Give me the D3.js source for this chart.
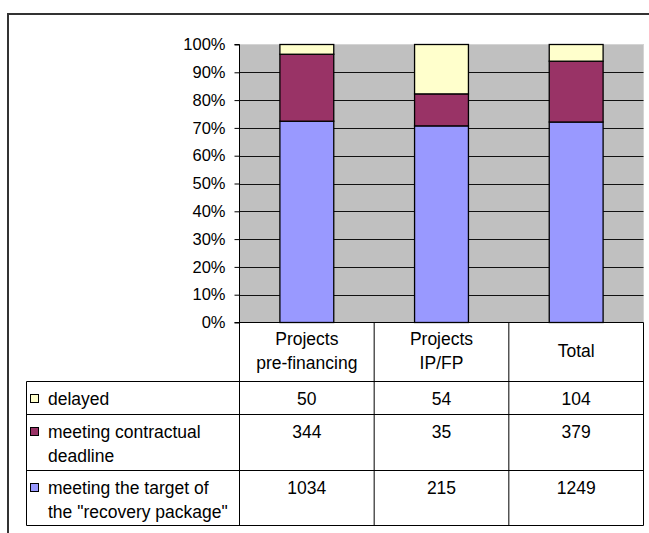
<!DOCTYPE html>
<html>
<head>
<meta charset="utf-8">
<script src="https://cdn.jsdelivr.net/npm/d3@7"></script>
<style>
  html, body { margin: 0; padding: 0; background: #fff; }
  svg { display: block; }
  text { font-family: "Liberation Sans", Arial, Helvetica, sans-serif; fill: #000; }
</style>
</head>
<body>
<svg id="chart" width="649" height="533"></svg>
<script>
// Project groups (columns) and their header lines
const categories = ["Projects pre-financing", "Projects IP/FP", "Total"];
const categoryLines = [["Projects", "pre-financing"], ["Projects", "IP/FP"], ["Total"]];

// Series, bottom to top in the stack
const seriesKeys = ["recovery", "contractual", "delayed"];
const seriesLabelLines = {
  recovery: ["meeting the target of", "the \"recovery package\""],
  contractual: ["meeting contractual", "deadline"],
  delayed: ["delayed"]
};
const seriesColors = { recovery: "#9999ff", contractual: "#993366", delayed: "#ffffcc" };

// Counts per category
const recoveryValues = [1034, 215, 1249];
const contractualValues = [344, 35, 379];
const delayedValues = [50, 54, 104];

// Axis ticks
const tickValues = [0, 0.1, 0.2, 0.3, 0.4, 0.5, 0.6, 0.7, 0.8, 0.9, 1];

// Table row order (top to bottom)
const tableOrder = ["delayed", "contractual", "recovery"];

const valuesByKey = { recovery: recoveryValues, contractual: contractualValues, delayed: delayedValues };
const rows = categories.map((c, i) => {
  const r = { category: c };
  seriesKeys.forEach(k => r[k] = valuesByKey[k][i]);
  return r;
});

const svg = d3.select("#chart");
const AXIS_FONT = 16.5;
const TABLE_FONT = 17.5;

// Plot geometry
const plot = { left: 239.5, right: 643.5, top: 44.5, bottom: 322.5 };

const x = d3.scaleBand()
  .domain(categories)
  .range([plot.left, plot.right])
  .paddingInner(0.6)
  .paddingOuter(0.3);

const y = d3.scaleLinear().domain([0, 1]).range([plot.bottom, plot.top]);

// Outer frame (top and left edges)
svg.append("path")
  .attr("d", `M8,533 V14 H649`)
  .attr("fill", "none")
  .attr("stroke", "#333")
  .attr("stroke-width", 2);

// Plot background
svg.append("rect")
  .attr("x", plot.left).attr("y", plot.top)
  .attr("width", plot.right - plot.left).attr("height", plot.bottom - plot.top)
  .attr("fill", "#c0c0c0")
  .attr("stroke", "#d4d4d4")
  .attr("stroke-width", 1);

// Gridlines
svg.append("g")
  .selectAll("line")
  .data(tickValues.filter(v => v > 0 && v < 1))
  .join("line")
  .attr("x1", plot.left).attr("x2", plot.right)
  .attr("y1", d => Math.round(y(d)) + 0.5).attr("y2", d => Math.round(y(d)) + 0.5)
  .attr("stroke", "#111")
  .attr("stroke-width", 1.2);

// Stacked 100% bars
const stack = d3.stack().keys(seriesKeys).offset(d3.stackOffsetExpand);
const layers = stack(rows);

svg.append("g")
  .selectAll("g")
  .data(layers)
  .join("g")
  .attr("fill", d => seriesColors[d.key])
  .selectAll("rect")
  .data(d => d)
  .join("rect")
  .attr("x", d => x(d.data.category))
  .attr("width", x.bandwidth())
  .attr("y", d => y(d[1]))
  .attr("height", d => y(d[0]) - y(d[1]))
  .attr("stroke", "#000")
  .attr("stroke-width", 1.3);

// Y axis
const yAxis = d3.axisLeft(y)
  .tickValues(tickValues)
  .tickFormat(d3.format(".0%"))
  .tickSize(5)
  .tickPadding(9);

const yAxisG = svg.append("g")
  .attr("transform", `translate(${plot.left},0)`)
  .call(yAxis);
yAxisG.select(".domain").attr("stroke", "#000").attr("d", `M-5,${plot.top}H0V${plot.bottom}`);
yAxisG.selectAll(".tick line").attr("stroke", "#000");
yAxisG.selectAll(".tick text")
  .attr("font-size", AXIS_FONT)
  .attr("font-family", "Liberation Sans, Arial, sans-serif")
  .attr("fill", "#000");

// Baseline
svg.append("line")
  .attr("x1", plot.left - 5).attr("x2", plot.right)
  .attr("y1", plot.bottom).attr("y2", plot.bottom)
  .attr("stroke", "#000");

// Data table
const tableLeft = 26.5;
const headerBottom = 381.5;
const rowBottoms = [414.5, 470.5, 525.5];
const lineGap = 24;
const colEdges = [plot.left, ...categories.map(c => x(c) + x.bandwidth() / 2 + x.step() / 2)];
const colCenters = categories.map(c => x(c) + x.bandwidth() / 2);

const table = svg.append("g");

// Column separators in the header band and through the table
colEdges.forEach(cx => {
  table.append("line")
    .attr("x1", cx).attr("x2", cx)
    .attr("y1", plot.bottom).attr("y2", rowBottoms[rowBottoms.length - 1])
    .attr("stroke", "#000");
});
// Left edge of table body
table.append("line")
  .attr("x1", tableLeft).attr("x2", tableLeft)
  .attr("y1", headerBottom).attr("y2", rowBottoms[rowBottoms.length - 1])
  .attr("stroke", "#000");
// Horizontal rules
[headerBottom, ...rowBottoms].forEach(ry => {
  table.append("line")
    .attr("x1", tableLeft).attr("x2", plot.right)
    .attr("y1", ry).attr("y2", ry)
    .attr("stroke", "#000");
});

// Header labels
const headerMid = (plot.bottom + headerBottom) / 2;
categoryLines.forEach((lines, i) => {
  const t = table.append("text")
    .attr("text-anchor", "middle")
    .attr("font-size", TABLE_FONT)
    .attr("x", colCenters[i]);
  const startY = headerMid - (lines.length - 1) * lineGap / 2 - 1;
  lines.forEach((ln, j) => {
    t.append("tspan")
      .attr("x", colCenters[i])
      .attr("y", startY + j * lineGap)
      .attr("dy", "0.35em")
      .text(ln);
  });
});

// Body rows
const rowTops = [headerBottom, ...rowBottoms.slice(0, -1)];
tableOrder.forEach((key, r) => {
  const firstY = rowTops[r] + 17;
  // legend key
  table.append("rect")
    .attr("x", 30.5).attr("y", firstY - 4)
    .attr("width", 8).attr("height", 8)
    .attr("fill", seriesColors[key])
    .attr("stroke", "#000")
    .attr("stroke-width", 1);
  const t = table.append("text")
    .attr("font-size", TABLE_FONT)
    .attr("x", 48);
  seriesLabelLines[key].forEach((ln, j) => {
    t.append("tspan")
      .attr("x", 48)
      .attr("y", firstY + j * lineGap)
      .attr("dy", "0.35em")
      .text(ln);
  });
  valuesByKey[key].forEach((v, i) => {
    table.append("text")
      .attr("text-anchor", "middle")
      .attr("font-size", TABLE_FONT)
      .attr("x", colCenters[i])
      .attr("y", firstY)
      .attr("dy", "0.35em")
      .text(v);
  });
});
</script>
</body>
</html>
